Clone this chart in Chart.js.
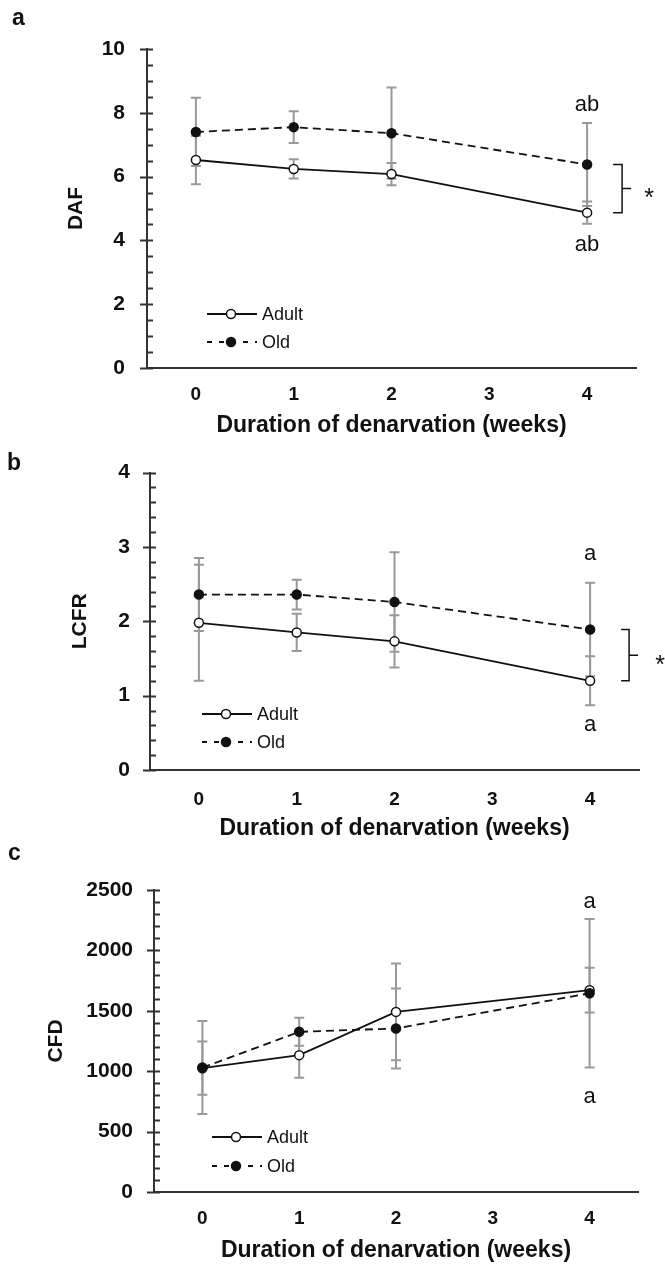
<!DOCTYPE html>
<html>
<head>
<meta charset="utf-8">
<script src="https://cdn.jsdelivr.net/npm/chart.js@4.4.1/dist/chart.umd.min.js"></script>
<style>
  html, body { margin: 0; padding: 0; background: #fff; }
  #page { position: relative; width: 665px; height: 1268px; overflow: hidden; }
  .panel { position: absolute; left: 0; width: 665px; }
</style>
</head>
<body>
<div id="page">
  <div class="panel" style="top:0;height:440px"><canvas id="chartA"></canvas></div>
  <div class="panel" style="top:440px;height:405px"><canvas id="chartB"></canvas></div>
  <div class="panel" style="top:845px;height:423px"><canvas id="chartC"></canvas></div>
</div>
<script>
// shared
const weeks = [0, 1, 2, 4];
const xTicks = [0, 1, 2, 3, 4];
const xTitle = 'Duration of denarvation (weeks)';
const seriesNames = ['Adult', 'Old'];

// a: DAF
const dafTicks = [0, 2, 4, 6, 8, 10];
const dafAdult = [6.52, 6.24, 6.08, 4.87];
const dafAdultSE = [0.76, 0.30, 0.35, 0.35];
const dafOld = [7.40, 7.55, 7.36, 6.38];
const dafOldSE = [1.07, 0.50, 1.43, 1.30];
const dafLetters = [{ x: 4, y: 8.24, text: 'ab' }, { x: 4, y: 3.86, text: 'ab' }];

// b: LCFR
const lcfrTicks = [0, 1, 2, 3, 4];
const lcfrAdult = [1.98, 1.85, 1.73, 1.20];
const lcfrAdultSE = [0.78, 0.25, 0.35, 0.33];
const lcfrOld = [2.36, 2.36, 2.26, 1.89];
const lcfrOldSE = [0.49, 0.20, 0.67, 0.63];
const lcfrLetters = [{ x: 4, y: 2.90, text: 'a' }, { x: 4, y: 0.60, text: 'a' }];

// c: CFD
const cfdTicks = [0, 500, 1000, 1500, 2000, 2500];
const cfdAdult = [1025, 1133, 1491, 1671];
const cfdAdultSE = [220, 188, 400, 185];
const cfdOld = [1030, 1326, 1354, 1645];
const cfdOldSE = [385, 116, 331, 615];
const cfdLetters = [{ x: 4, y: 2403, text: 'a' }, { x: 4, y: 787, text: 'a' }];

const FONT = "'Liberation Sans', Arial, Helvetica, sans-serif";
const INK = '#111';
const AXIS = '#333';

const figurePlugin = {
    id: 'figure',

    beforeDatasetsDraw(chart, args, opts) {
        const ctx = chart.ctx;
        const yScale = chart.scales.y;
        const cap = 5;
        ctx.save();
        ctx.strokeStyle = '#999';
        ctx.lineWidth = 2;
        chart.data.datasets.forEach((ds, i) => {
            const meta = chart.getDatasetMeta(i);
            meta.data.forEach((pt, j) => {
                const v = ds.data[j].y;
                const e = ds.errors[j];
                const yTop = yScale.getPixelForValue(v + e);
                const yBot = yScale.getPixelForValue(v - e);
                ctx.beginPath();
                ctx.moveTo(pt.x, yTop); ctx.lineTo(pt.x, yBot);
                ctx.moveTo(pt.x - cap, yTop); ctx.lineTo(pt.x + cap, yTop);
                ctx.moveTo(pt.x - cap, yBot); ctx.lineTo(pt.x + cap, yBot);
                ctx.stroke();
            });
        });
        ctx.restore();
    },

    afterDraw(chart, args, opts) {
        const ctx = chart.ctx;
        const area = chart.chartArea;
        const xScale = chart.scales.x;
        const yScale = chart.scales.y;
        ctx.save();

        // y axis tick marks, major cross the axis, minor on the inside
        ctx.strokeStyle = AXIS;
        ctx.lineWidth = 2;
        const majors = yScale.ticks.map(t => t.value);
        const n = Math.round((yScale.max - yScale.min) / opts.minorStep);
        ctx.beginPath();
        for (let k = 0; k <= n; k++) {
            const v = yScale.min + k * opts.minorStep;
            const py = Math.round(yScale.getPixelForValue(v)) + 0.5;
            const isMajor = majors.some(m => Math.abs(m - v) < 1e-6);
            ctx.moveTo(area.left - (isMajor ? 7 : 0), py);
            ctx.lineTo(area.left + 6, py);
        }
        ctx.stroke();

        // legend inside the plot
        const lg = opts.legend;
        chart.data.datasets.forEach((ds, i) => {
            const x0 = area.left + lg.dx;
            const py = area.bottom - lg.rows[i];
            ctx.strokeStyle = INK;
            ctx.lineWidth = 1.8;
            ctx.setLineDash(ds.borderDash.length ? [5, 7] : []);
            ctx.beginPath();
            ctx.moveTo(x0, py);
            ctx.lineTo(x0 + 50, py);
            ctx.stroke();
            ctx.setLineDash([]);
            ctx.beginPath();
            ctx.arc(x0 + 24, py, 4.5, 0, Math.PI * 2);
            ctx.fillStyle = ds.pointBackgroundColor;
            ctx.fill();
            ctx.lineWidth = 1.5;
            ctx.stroke();
            ctx.fillStyle = INK;
            ctx.font = '18px ' + FONT;
            ctx.textAlign = 'left';
            ctx.textBaseline = 'middle';
            ctx.fillText(ds.label, x0 + 55, py + 1);
        });

        // significance letters
        ctx.fillStyle = INK;
        ctx.font = '22px ' + FONT;
        ctx.textAlign = 'center';
        ctx.textBaseline = 'middle';
        opts.letters.forEach(l => {
            ctx.fillText(l.text, xScale.getPixelForValue(l.x), yScale.getPixelForValue(l.y));
        });

        // group bracket with asterisk
        if (opts.bracket) {
            const b = opts.bracket;
            const x4 = xScale.getPixelForValue(b.x);
            const yT = yScale.getPixelForValue(b.top);
            const yB = yScale.getPixelForValue(b.bottom);
            const yM = (yT + yB) / 2;
            ctx.strokeStyle = INK;
            ctx.lineWidth = 1.5;
            ctx.beginPath();
            ctx.moveTo(x4 + b.dx[0], yT);
            ctx.lineTo(x4 + b.dx[1], yT);
            ctx.lineTo(x4 + b.dx[1], yB);
            ctx.lineTo(x4 + b.dx[0], yB);
            ctx.moveTo(x4 + b.dx[1], yM);
            ctx.lineTo(x4 + b.dx[2], yM);
            ctx.stroke();
            ctx.font = '25px ' + FONT;
            ctx.fillText('*', x4 + b.starDx, yM + 11);
        }

        // panel letter
        ctx.font = 'bold 23px ' + FONT;
        ctx.textAlign = 'left';
        ctx.textBaseline = 'alphabetic';
        ctx.fillText(opts.panel.text, opts.panel.x, opts.panel.y);

        ctx.restore();
    }
};

function toPoints(values) {
    return weeks.map((w, i) => ({ x: w, y: values[i] }));
}

function buildPanel(canvasId, s) {
    const canvas = document.getElementById(canvasId);
    return new Chart(canvas, {
        type: 'line',
        data: {
            datasets: [
                {
                    label: seriesNames[0],
                    data: toPoints(s.adult),
                    errors: s.adultSE,
                    borderColor: INK,
                    borderWidth: 1.8,
                    borderDash: [],
                    pointRadius: 4.5,
                    pointHoverRadius: 4.5,
                    pointBorderWidth: 1.5,
                    pointBorderColor: INK,
                    pointBackgroundColor: '#fff',
                    tension: 0,
                    order: 2
                },
                {
                    label: seriesNames[1],
                    data: toPoints(s.old),
                    errors: s.oldSE,
                    borderColor: INK,
                    borderWidth: 1.8,
                    borderDash: [8, 5],
                    pointRadius: 4.5,
                    pointHoverRadius: 4.5,
                    pointBorderWidth: 1.5,
                    pointBorderColor: INK,
                    pointBackgroundColor: INK,
                    tension: 0,
                    order: 1
                }
            ]
        },
        options: {
            responsive: true,
            maintainAspectRatio: false,
            animation: false,
            events: [],
            layout: {
                padding: { top: s.padTop, right: s.padRight, left: 0, bottom: 0 }
            },
            scales: {
                x: {
                    type: 'linear',
                    min: -0.5,
                    max: 4.5,
                    afterBuildTicks(scale) { scale.ticks = xTicks.map(v => ({ value: v })); },
                    afterFit(scale) { scale.height = s.xHeight; },
                    grid: { display: false, drawTicks: false },
                    border: { display: true, color: AXIS, width: 2 },
                    ticks: {
                        color: INK,
                        padding: s.xLabelPad,
                        maxRotation: 0,
                        callback: v => String(v),
                        font: { family: FONT, size: 19, weight: 'bold' }
                    },
                    title: {
                        display: true,
                        text: xTitle,
                        color: INK,
                        padding: { top: 0, bottom: s.xTitlePad },
                        font: { family: FONT, size: 23, weight: 'bold' }
                    }
                },
                y: {
                    min: s.yTicks[0],
                    max: s.yTicks[s.yTicks.length - 1],
                    afterBuildTicks(scale) { scale.ticks = s.yTicks.map(v => ({ value: v })); },
                    afterFit(scale) { scale.width = s.yWidth; },
                    grid: { display: false, drawTicks: false },
                    border: { display: true, color: AXIS, width: 2 },
                    ticks: {
                        color: INK,
                        padding: s.yLabelPad,
                        callback: v => String(v),
                        font: { family: FONT, size: 21, weight: 'bold' }
                    },
                    title: {
                        display: true,
                        text: s.yTitle,
                        color: INK,
                        padding: { top: s.yTitlePad, bottom: 0 },
                        font: { family: FONT, size: 21, weight: 'bold' }
                    }
                }
            },
            plugins: {
                legend: { display: false },
                tooltip: { enabled: false },
                figure: {
                    minorStep: s.minorStep,
                    legend: s.legend,
                    letters: s.letters,
                    bracket: s.bracket,
                    panel: s.panel
                }
            }
        },
        plugins: [figurePlugin]
    });
}

buildPanel('chartA', {
    adult: dafAdult, adultSE: dafAdultSE, old: dafOld, oldSE: dafOldSE,
    yTicks: dafTicks, minorStep: 0.5, yTitle: 'DAF', letters: dafLetters,
    padTop: 49, padRight: 29, yWidth: 147, xHeight: 72,
    yLabelPad: 22, yTitlePad: 64, xLabelPad: 15, xTitlePad: 1,
    legend: { dx: 60, rows: [54, 26] },
    bracket: { x: 4, top: dafOld[3], bottom: dafAdult[3], dx: [26, 35, 44], starDx: 62 },
    panel: { text: 'a', x: 12, y: 25 }
});

buildPanel('chartB', {
    adult: lcfrAdult, adultSE: lcfrAdultSE, old: lcfrOld, oldSE: lcfrOldSE,
    yTicks: lcfrTicks, minorStep: 0.2, yTitle: 'LCFR', letters: lcfrLetters,
    padTop: 31, padRight: 26, yWidth: 150, xHeight: 75,
    yLabelPad: 20, yTitlePad: 68, xLabelPad: 18, xTitlePad: 3,
    legend: { dx: 52, rows: [56, 28] },
    bracket: { x: 4, top: lcfrOld[3], bottom: lcfrAdult[3], dx: [31, 39, 48], starDx: 70 },
    panel: { text: 'b', x: 7, y: 30 }
});

buildPanel('chartC', {
    adult: cfdAdult, adultSE: cfdAdultSE, old: cfdOld, oldSE: cfdOldSE,
    yTicks: cfdTicks, minorStep: 100, yTitle: 'CFD', letters: cfdLetters,
    padTop: 45, padRight: 27, yWidth: 154, xHeight: 76,
    yLabelPad: 21, yTitlePad: 44, xLabelPad: 15, xTitlePad: 4,
    legend: { dx: 58, rows: [55, 26] },
    bracket: null,
    panel: { text: 'c', x: 8, y: 15 }
});
</script>
</body>
</html>
